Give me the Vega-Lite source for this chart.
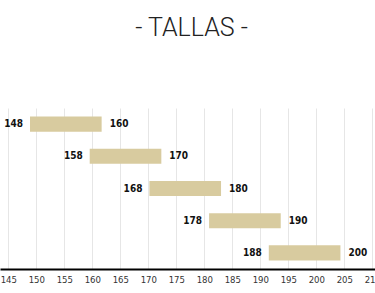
{
  "$schema": "https://vega.github.io/schema/vega-lite/v6.json",
  "width": 375,
  "height": 161,
  "autosize": {"type": "none"},
  "padding": {"left": 0, "top": 108, "right": 0, "bottom": 24},
  "background": "white",
  "title": {
    "text": "- TALLAS -",
    "font": "Roboto",
    "fontSize": 25,
    "fontWeight": 300,
    "color": "#222222",
    "anchor": "middle",
    "frame": "group",
    "baseline": "alphabetic",
    "offset": 47,
    "dx": 4
  },
  "data": {
    "values": [
      {"talla": "148-160", "lo": 148, "hi": 160},
      {"talla": "158-170", "lo": 158, "hi": 170},
      {"talla": "168-180", "lo": 168, "hi": 180},
      {"talla": "178-190", "lo": 178, "hi": 190},
      {"talla": "188-200", "lo": 188, "hi": 200}
    ]
  },
  "config": {"view": {"stroke": null}},
  "layer": [
    {
      "encoding": {
        "y": {
          "field": "talla",
          "type": "nominal",
          "sort": null,
          "axis": null,
          "scale": {"paddingInner": 0.53, "paddingOuter": 0.265}
        }
      },
      "layer": [
        {
          "mark": {"type": "tick", "opacity": 0},
          "encoding": {
            "x": {
              "field": "lo",
              "type": "quantitative",
              "scale": {"domain": [143.52, 210.48], "nice": false, "zero": false},
              "axis": {
                "orient": "bottom",
                "title": null,
                "values": [145, 150, 155, 160, 165, 170, 175, 180, 185, 190, 195, 200, 205, 210],
                "grid": true,
                "gridColor": "#e6e6e6",
                "gridWidth": 1,
                "ticks": false,
                "labelPadding": 5,
                "labelFont": "DejaVu Sans Condensed",
                "labelFontSize": 9.5,
                "labelColor": "#333333",
                "labelOverlap": false,
                "labelFlush": false,
                "domain": true,
                "domainColor": "#000000",
                "domainWidth": 2
              }
            }
          }
        }
      ]
    },
    {
      "encoding": {
        "y": {
          "field": "talla",
          "type": "nominal",
          "sort": null,
          "axis": null,
          "scale": {"paddingInner": 0.53, "paddingOuter": 0.265}
        },
        "x": {
          "field": "lo",
          "type": "quantitative",
          "scale": {"domain": [142.975, 205.79], "nice": false, "zero": false},
          "axis": null
        }
      },
      "layer": [
        {
          "mark": {"type": "bar", "color": "#d8cb9f"},
          "encoding": {"x2": {"field": "hi"}}
        },
        {
          "mark": {
            "type": "text",
            "align": "right",
            "baseline": "middle",
            "dx": -7,
            "font": "DejaVu Sans Condensed",
            "fontSize": 10,
            "fontWeight": "bold",
            "color": "#111111"
          },
          "encoding": {"text": {"field": "lo", "type": "quantitative"}}
        },
        {
          "mark": {
            "type": "text",
            "align": "left",
            "baseline": "middle",
            "dx": 8,
            "font": "DejaVu Sans Condensed",
            "fontSize": 10,
            "fontWeight": "bold",
            "color": "#111111"
          },
          "encoding": {
            "x": {"field": "hi", "type": "quantitative"},
            "text": {"field": "hi", "type": "quantitative"}
          }
        }
      ]
    }
  ],
  "resolve": {"scale": {"x": "independent"}}
}
